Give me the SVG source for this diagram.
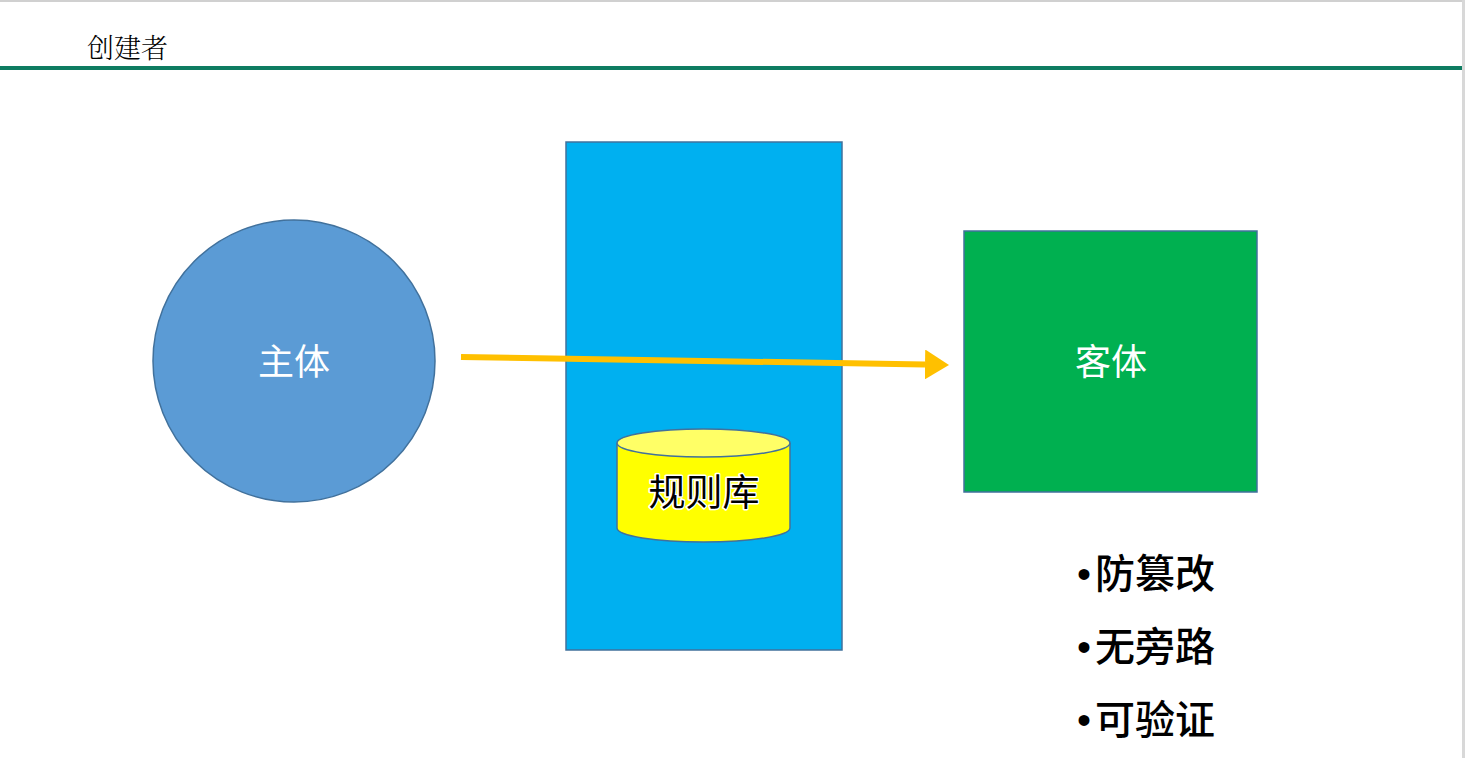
<svg xmlns="http://www.w3.org/2000/svg" width="1465" height="758" viewBox="0 0 1465 758">
<defs>
<style>
.cjk{font-family:"Noto Sans CJK SC","Noto Sans",sans-serif}
.lbl{fill:#fff;font-size:36px;text-anchor:middle}
.bul{fill:#000;font-size:40px}
</style>
<marker id="ah" markerWidth="5" markerHeight="5" refX="0" refY="2.5" orient="auto" markerUnits="strokeWidth"><path d="M0,0 L4,2.5 L0,5 Z" fill="#FFC000"/></marker>
</defs>
<rect width="1465" height="758" fill="#fff"/>
<rect x="0" y="0" width="1465" height="2" fill="#d0d0d0"/>
<rect x="1462" y="0" width="3" height="758" fill="#d8d8d8"/>
<g id="header">
<text x="87" y="58" font-family="'Noto Serif CJK SC','AR PL UMing CN','Liberation Serif','Noto Sans CJK SC',serif" font-size="27" font-weight="300" fill="#000">创建者</text>
<rect x="0" y="66" width="1462" height="4" fill="#0E7C61"/>
</g>
<g id="subject">
<circle cx="294" cy="361" r="141" fill="#5B9BD5" stroke="#41719C" stroke-width="1.5"/>
<text class="cjk lbl" x="294" y="375">主体</text>
</g>
<g id="monitor">
<rect x="566" y="142" width="276" height="508" fill="#00B0F0" stroke="#41719C" stroke-width="1.5"/>
</g>
<g id="rulebase">
<path d="M617,443 L617,528 A86.5,14 0 0 0 790,528 L790,443" fill="#FFFF00" stroke="#41719C" stroke-width="1.5"/>
<ellipse cx="703.5" cy="443" rx="86.5" ry="14" fill="#FFFF66" stroke="#41719C" stroke-width="1.5"/>
<text class="cjk" x="704" y="506" font-size="37" text-anchor="middle" fill="#000" stroke="#fff" stroke-width="3" paint-order="stroke" stroke-linejoin="round">规则库</text>
</g>
<g id="object">
<rect x="964" y="231" width="293" height="261" fill="#00B050" stroke="#41719C" stroke-width="1.5"/>
<text class="cjk lbl" x="1111" y="375">客体</text>
</g>
<g id="connectors">
<line x1="461" y1="357" x2="925" y2="364.5" stroke="#FFC000" stroke-width="6" marker-end="url(#ah)"/>
</g>
<g id="properties">
<text class="bul" x="1077" y="588" font-family="'Liberation Sans','Noto Sans CJK SC',sans-serif">•<tspan class="cjk" x="1095" font-weight="500">防篡改</tspan></text>
<text class="bul" x="1077" y="661" font-family="'Liberation Sans','Noto Sans CJK SC',sans-serif">•<tspan class="cjk" x="1095" font-weight="500">无旁路</tspan></text>
<text class="bul" x="1077" y="734" font-family="'Liberation Sans','Noto Sans CJK SC',sans-serif">•<tspan class="cjk" x="1095" font-weight="500">可验证</tspan></text>
</g>
</svg>
